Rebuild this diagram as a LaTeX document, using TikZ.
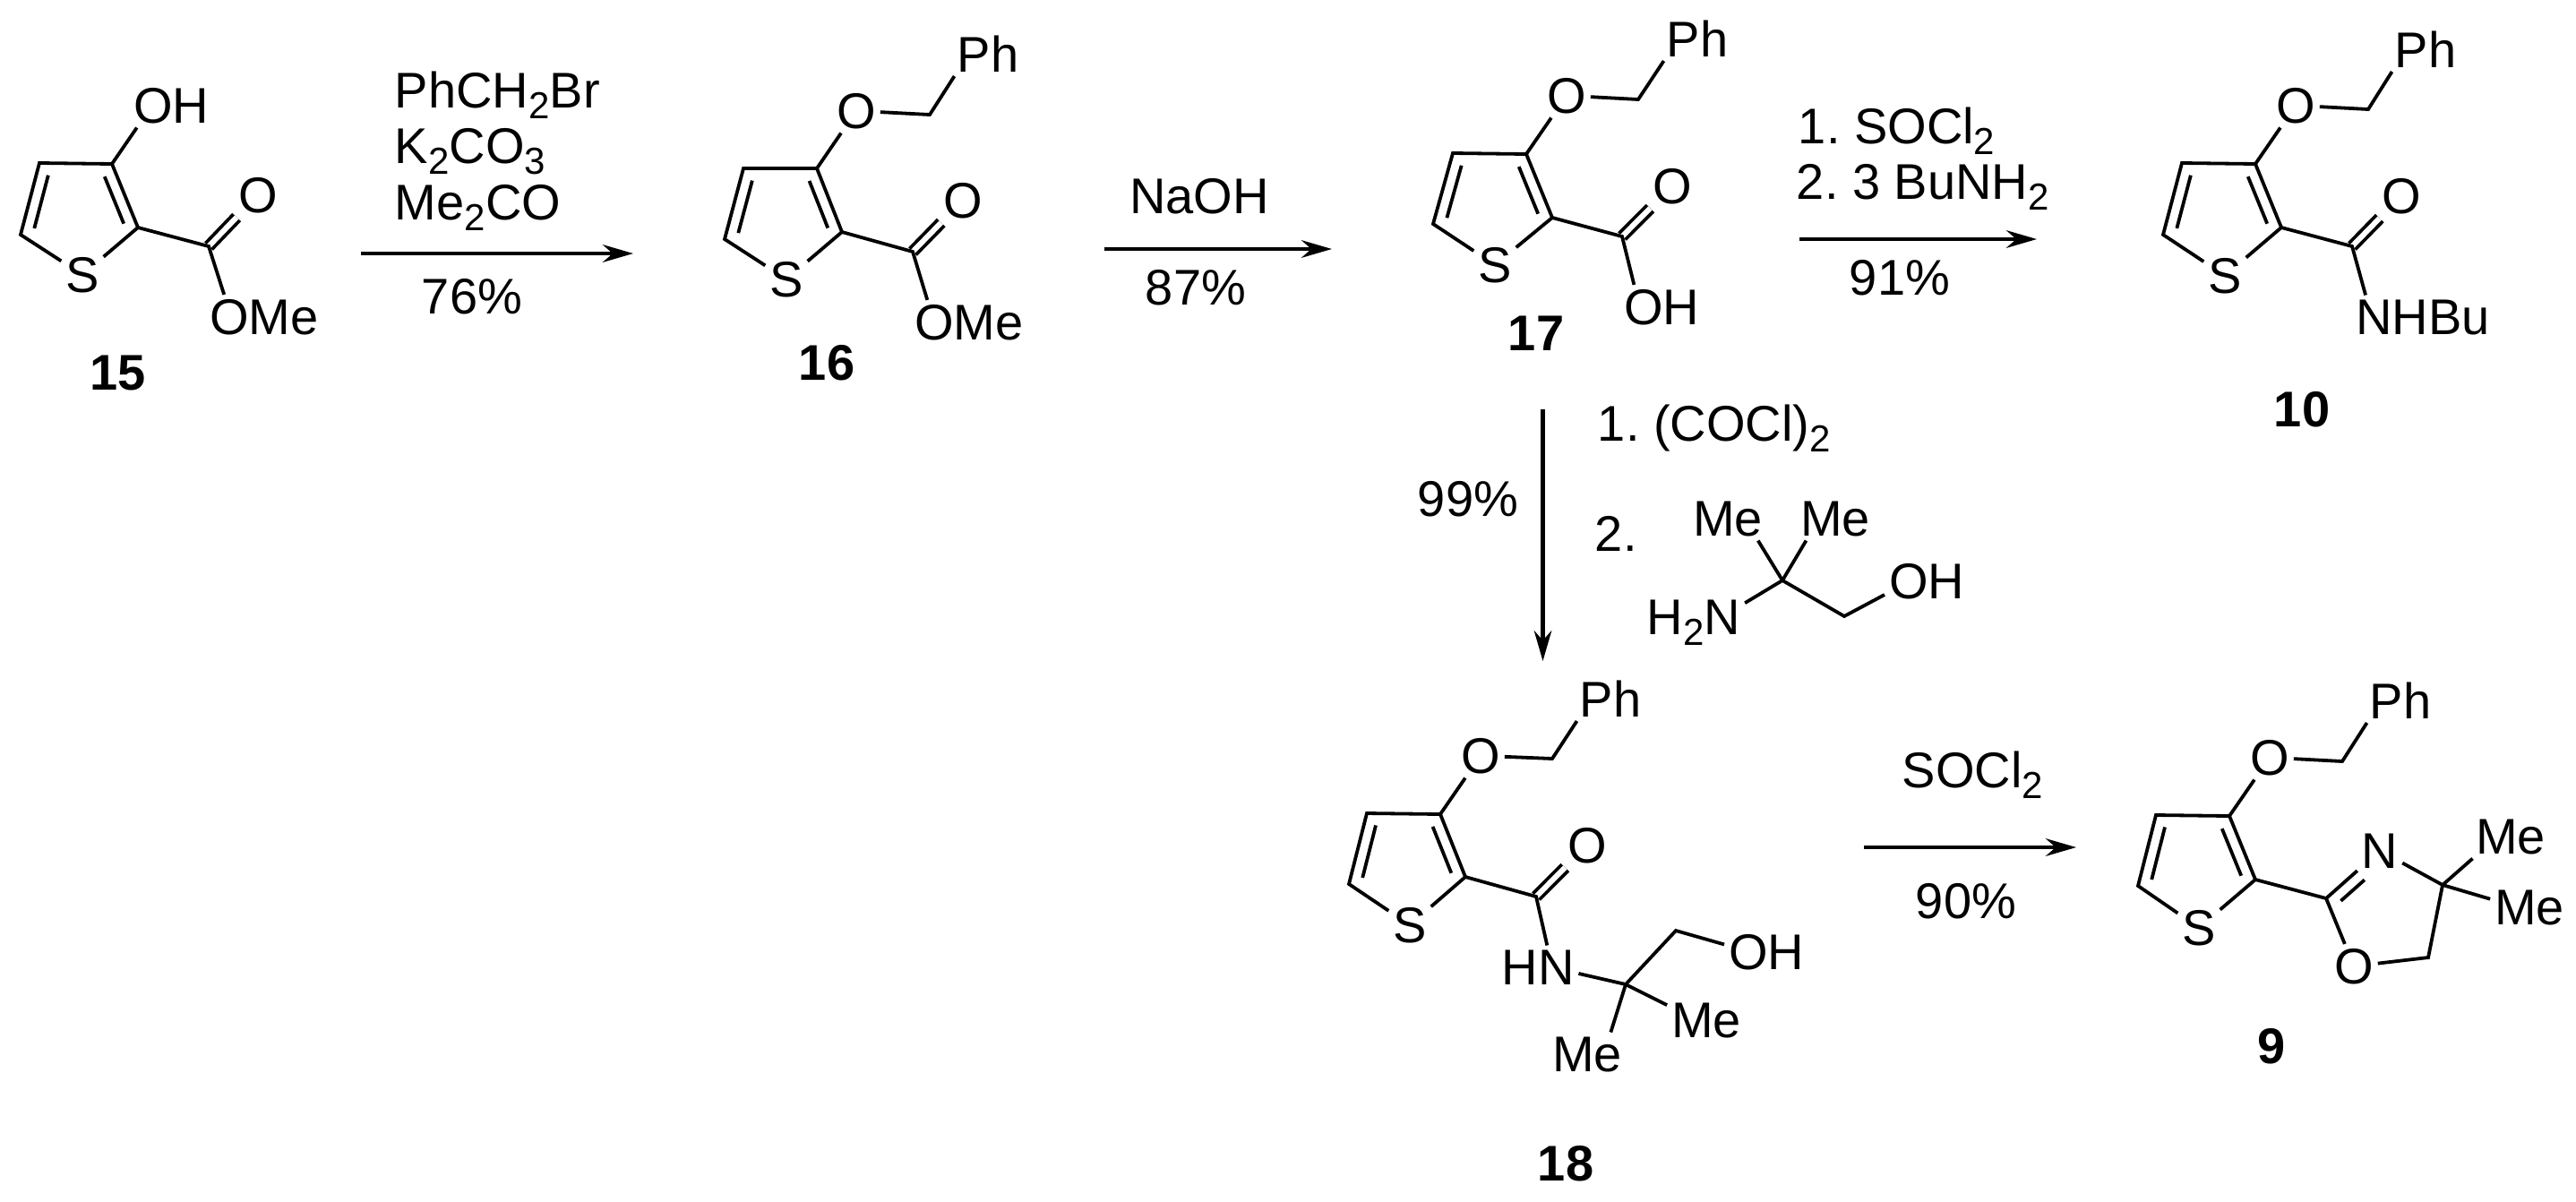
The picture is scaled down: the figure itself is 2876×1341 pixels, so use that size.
\documentclass[tikz,border=0pt]{standalone}
\usepackage{fontspec}
\setmainfont{Liberation Sans}
\usetikzlibrary{calc,arrows.meta}
\newcommand{\sbs}[1]{\raisebox{-3.2pt}{\fontsize{10.5}{10.5}\selectfont #1}}
\newcommand{\inbond}[3]{\draw ($(#1)!0.13!(#2)!#3!90:(#2)$) -- ($(#1)!0.87!(#2)!#3!90:(#2)$);}
\newcommand{\thiophene}[1]{
\draw (#1s) -- (#1c5) -- (#1c4) -- (#1c3) -- (#1c2) -- (#1s);
\inbond{#1c4}{#1c5}{3.25pt}
\inbond{#1c3}{#1c2}{-3.25pt}
}
\newcommand{\benzyl}[1]{\draw (#1c3) -- (#1o) -- (#1b) -- (#1ph.214);}
\tikzset{
atom/.style={inner sep=0pt,outer sep=1.25pt,anchor=base,font=\fontsize{14}{16}\selectfont},
tag/.style={inner sep=0pt,anchor=base,font=\fontsize{14}{16}\selectfont\bfseries},
txt/.style={inner sep=0pt,anchor=base west,font=\fontsize{14}{16}\selectfont\frenchspacing},
mid/.style={txt,anchor=base},
bond/.style={line width=0.95pt},
dbl/.style={double,double distance=1.5pt,line width=0.95pt},
rxn/.style={line width=1.05pt,-{Stealth[length=8.5pt,width=4.9pt]}}
}
\begin{document}
\begin{tikzpicture}[x=0.25pt,y=-0.25pt,bond]
\useasboundingbox (0,0) rectangle (2876,1341);

\coordinate (p15c3) at (125,183);
\coordinate (p15c4) at (44,182);
\coordinate (p15c5) at (23,262);
\coordinate (p15c2) at (154,254);
\coordinate (p15co) at (233,275);
\node[atom] (p15s) at (92,326) {S};
\node[atom] (p15oh) at (191,137) {OH};
\node[atom] (p15oc) at (288,237) {O};
\node[atom] (p15ome) at (295,373) {OMe};
\node[tag] (p15) at (132,435) {15};
\thiophene{p15}
\draw[dbl] (p15co) -- (p15oc);
\draw (p15c2) -- (p15co) -- (p15ome.151);
\draw (p15c3) -- (p15oh.213);

\coordinate (a1s) at (403,283);
\coordinate (a1e) at (707,283);
\draw[rxn] (a1s) -- (a1e);
\node[txt] (r1a) at (439,120) {PhCH\sbs{2}Br};
\node[txt] (r1b) at (439,182) {K\sbs{2}CO\sbs{3}};
\node[txt] (r1c) at (439,245) {Me\sbs{2}CO};
\node[mid] (y1) at (527,350) {76\%};

\coordinate (p16c3) at (912,188);
\coordinate (p16c4) at (830,188);
\coordinate (p16c5) at (809,267);
\coordinate (p16c2) at (940,259);
\coordinate (p16co) at (1019,281);
\coordinate (p16b) at (1038,128);
\node[atom] (p16s) at (878,331) {S};
\node[atom] (p16o) at (956,143) {O};
\node[atom] (p16ph) at (1103,80) {Ph};
\node[atom] (p16oc) at (1075,243) {O};
\node[atom] (p16ome) at (1082,379) {OMe};
\node[tag] (p16) at (923,424) {16};
\thiophene{p16}
\benzyl{p16}
\draw[dbl] (p16co) -- (p16oc);
\draw (p16c2) -- (p16co) -- (p16ome.152);

\coordinate (a2s) at (1233,278);
\coordinate (a2e) at (1487,278);
\draw[rxn] (a2s) -- (a2e);
\node[mid] (r2) at (1339,238) {NaOH};
\node[mid] (y2) at (1335,340) {87\%};

\coordinate (p17c3) at (1704,172);
\coordinate (p17c4) at (1622,171);
\coordinate (p17c5) at (1600,250);
\coordinate (p17c2) at (1733,243);
\coordinate (p17co) at (1811,264);
\coordinate (p17b) at (1829,111);
\node[atom] (p17s) at (1669,315) {S};
\node[atom] (p17o) at (1749,126) {O};
\node[atom] (p17ph) at (1895,63) {Ph};
\node[atom] (p17oc) at (1867,227) {O};
\node[atom] (p17oh) at (1855,362) {OH};
\node[tag] (p17) at (1715,391) {17};
\thiophene{p17}
\benzyl{p17}
\draw[dbl] (p17co) -- (p17oc);
\draw (p17c2) -- (p17co) -- (p17oh.141);

\coordinate (a3s) at (2009,267);
\coordinate (a3e) at (2274,267);
\draw[rxn] (a3s) -- (a3e);
\node[txt] (r3a) at (2006,160) {1. SOCl\sbs{2}};
\node[txt] (r3b) at (2004,222) {2. 3 BuNH\sbs{2}};
\node[mid] (y3) at (2121,329) {91\%};

\coordinate (p10c3) at (2518,183);
\coordinate (p10c4) at (2436,182);
\coordinate (p10c5) at (2415,262);
\coordinate (p10c2) at (2547,254);
\coordinate (p10co) at (2626,275);
\coordinate (p10b) at (2644,122);
\node[atom] (p10s) at (2484,327) {S};
\node[atom] (p10o) at (2563,137) {O};
\node[atom] (p10ph) at (2708,75) {Ph};
\node[atom] (p10oc) at (2681,238) {O};
\node[atom] (p10nh) at (2705,373) {NHBu};
\node[tag] (p10) at (2570,476) {10};
\thiophene{p10}
\benzyl{p10}
\draw[dbl] (p10co) -- (p10oc);
\draw (p10c2) -- (p10co) -- (p10nh.159);

\coordinate (a4s) at (1722.5,457);
\coordinate (a4e) at (1722.5,738);
\draw[rxn] (a4s) -- (a4e);
\node[mid] (y4) at (1639,576) {99\%};
\node[txt] (r4a) at (1782,492) {1. (COCl)\sbs{2}};
\node[txt] (r4b) at (1779,615) {2.};
\coordinate (qc) at (1990,648);
\coordinate (qb) at (2059,688);
\node[atom] (qme1) at (1929,598) {Me};
\node[atom] (qme2) at (2049,598) {Me};
\node[atom] (qoh) at (2151,668) {OH};
\node[atom] (qn) at (1891,708) {H\sbs{2}N};
\draw (qc) -- (qme1.324);
\draw (qc) -- (qme2.217);
\draw (qc) -- (qn.21);
\draw (qc) -- (qb) -- (qoh.198);

\coordinate (p18c3) at (1608,909);
\coordinate (p18c4) at (1526,908);
\coordinate (p18c5) at (1506,987);
\coordinate (p18c2) at (1636,979);
\coordinate (p18co) at (1715,1001);
\coordinate (p18b) at (1733,847);
\coordinate (p18q) at (1815,1099);
\coordinate (p18d) at (1871,1039);
\node[atom] (p18s) at (1574,1052) {S};
\node[atom] (p18o) at (1653,863) {O};
\node[atom] (p18ph) at (1798,800) {Ph};
\node[atom] (p18oc) at (1772,963) {O};
\node[atom] (p18nh) at (1717,1099) {HN};
\node[atom] (p18oh) at (1972,1082) {OH};
\node[atom] (p18me1) at (1905,1158) {Me};
\node[atom] (p18me2) at (1772,1196) {Me};
\node[tag] (p18) at (1748,1318) {18};
\thiophene{p18}
\benzyl{p18}
\draw[dbl] (p18co) -- (p18oc);
\draw (p18c2) -- (p18co) -- (p18nh.67);
\draw (p18nh.351) -- (p18q) -- (p18d) -- (p18oh.170);
\draw (p18q) -- (p18me1.159);
\draw (p18q) -- (p18me2.43);

\coordinate (a5s) at (2081,946);
\coordinate (a5e) at (2318,946);
\draw[rxn] (a5s) -- (a5e);
\node[txt] (r5) at (2122,879) {SOCl\sbs{2}};
\node[mid] (y5) at (2195,1025) {90\%};

\coordinate (p9c3) at (2489,911);
\coordinate (p9c4) at (2407,910);
\coordinate (p9c5) at (2387,989);
\coordinate (p9c2) at (2518,982);
\coordinate (p9cx) at (2597,1003);
\coordinate (p9b) at (2615,850);
\coordinate (p9q) at (2727,988);
\coordinate (p9d) at (2711,1069);
\node[atom] (p9s) at (2455,1055) {S};
\node[atom] (p9o) at (2534,865) {O};
\node[atom] (p9ph) at (2680,802) {Ph};
\node[atom] (p9n) at (2657,969) {N};
\node[atom] (p9ox) at (2628,1098) {O};
\node[atom] (p9me1) at (2803,953) {Me};
\node[atom] (p9me2) at (2824,1032) {Me};
\node[tag] (p9) at (2536,1187) {9};
\thiophene{p9}
\benzyl{p9}
\draw (p9c2) -- (p9cx) -- (p9n);
\draw ($(p9cx)!0.13!(p9n)!-3.25pt!90:(p9n)$) -- ($(p9cx)!0.57!(p9n)!-3.25pt!90:(p9n)$);
\draw (p9cx) -- (p9ox) -- (p9d) -- (p9q) -- (p9n);
\draw (p9q) -- (p9me1.210);
\draw (p9q) -- (p9me2.168);
\end{tikzpicture}
\end{document}
